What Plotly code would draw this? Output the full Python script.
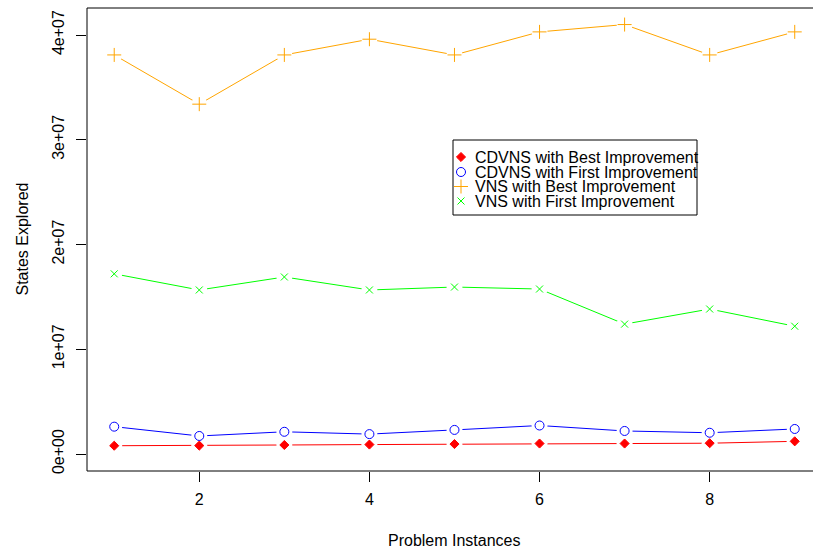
import plotly.graph_objects as go

# ---- data ----
instances = [1, 2, 3, 4, 5, 6, 7, 8, 9]
cdvns_best = [7.9e5, 8.0e5, 8.6e5, 9.0e5, 9.5e5, 1.0e6, 1.0e6, 1.03e6, 1.21e6]
cdvns_first = [2.61e6, 1.72e6, 2.12e6, 1.90e6, 2.30e6, 2.72e6, 2.20e6, 2.03e6, 2.39e6]
vns_best = [3.81e7, 3.34e7, 3.81e7, 3.96e7, 3.81e7, 4.03e7, 4.10e7, 3.81e7, 4.03e7]
vns_first = [1.72e7, 1.566e7, 1.69e7, 1.566e7, 1.594e7, 1.575e7, 1.24e7, 1.384e7, 1.22e7]

series_names = ["CDVNS with Best Improvement", "CDVNS with First Improvement",
                "VNS with Best Improvement", "VNS with First Improvement"]
series_values = [cdvns_best, cdvns_first, vns_best, vns_first]
colors = ["#FF0000", "#0000FF", "#FFA500", "#00FF00"]
symbols = ["diamond", "circle-open", "cross-thin", "x-thin"]
sizes = [7, 9, 10, 7]

x_ticks = [2, 4, 6, 8]
y_ticks = [0, 1e7, 2e7, 3e7, 4e7]
y_ticklabels = ["0e+00", "1e+07", "2e+07", "3e+07", "4e+07"]

FONT = "Liberation Sans, Arial, Helvetica, sans-serif"

W, H = 813, 552
L, T = 87, 8
B_PIX = 471  # bottom of plot region in pixels
PW, PH = W - L, B_PIX - T


def px(xp):
    return (xp - L) / PW


def py(yp):
    return (B_PIX - yp) / PH


fig = go.Figure()

# lines
for vals, c in zip(series_values, colors):
    fig.add_trace(go.Scatter(x=instances, y=vals, mode="lines",
                             line=dict(color=c, width=1), showlegend=False,
                             hoverinfo="skip"))
# white gaps around points (R type="b")
for vals in series_values:
    fig.add_trace(go.Scatter(x=instances, y=vals, mode="markers",
                             marker=dict(color="white", size=16, symbol="circle",
                                         line=dict(width=0), opacity=1),
                             showlegend=False, hoverinfo="skip"))
# symbols
for name, vals, c, s, sz in zip(series_names, series_values, colors, symbols, sizes):
    fig.add_trace(go.Scatter(x=instances, y=vals, mode="markers", name=name,
                             marker=dict(color=c, size=sz, symbol=s,
                                         line=dict(color=c, width=1)),
                             showlegend=False))

# manual legend on pixel-coordinate overlay axes
leg_rows_y = [157, 172, 186.5, 201]
leg_sym_x = 461
leg_text_x = 473
for name, c, s, sz, ry in zip(series_names, colors, symbols, sizes, leg_rows_y):
    fig.add_trace(go.Scatter(x=[leg_sym_x], y=[ry], mode="markers",
                             xaxis="x2", yaxis="y2",
                             marker=dict(color=c, size=sz, symbol=s,
                                         line=dict(color=c, width=1)),
                             showlegend=False, hoverinfo="skip"))
    fig.add_annotation(x=px(leg_text_x), y=py(ry), xref="paper", yref="paper",
                       text=name, showarrow=False, xanchor="left", yanchor="middle",
                       font=dict(family=FONT, size=16, color="black"))

fig.add_shape(type="rect", xref="paper", yref="paper",
              x0=px(453), x1=px(697), y0=py(215), y1=py(140),
              line=dict(color="black", width=1))

# box around plot (right edge falls outside the image)
fig.add_shape(type="rect", xref="paper", yref="paper", x0=0, x1=1.2, y0=0, y1=1,
              line=dict(color="black", width=1))

x_right = 1 + (W - 114.5) / 85.03

fig.update_layout(
    width=W, height=H,
    margin=dict(l=L, r=0, t=T, b=H - B_PIX),
    paper_bgcolor="white", plot_bgcolor="white",
    font=dict(family=FONT, size=16, color="black"),
    showlegend=False,
    xaxis=dict(range=[0.68, x_right], tickvals=x_ticks, ticks="outside", ticklen=10,
               tickwidth=1, tickcolor="black", showgrid=False, zeroline=False,
               showline=False, tickfont=dict(size=16), ticklabelstandoff=4),
    yaxis=dict(range=[-1.623e6, 4.258e7], tickvals=y_ticks, ticktext=y_ticklabels,
               tickangle=-90, ticks="outside", ticklen=10, tickwidth=1,
               tickcolor="black", showgrid=False, zeroline=False, showline=False,
               tickfont=dict(size=16), ticklabelstandoff=6),
    xaxis2=dict(range=[L, W], overlaying="x", visible=False, fixedrange=True),
    yaxis2=dict(range=[B_PIX, T], overlaying="y", visible=False, fixedrange=True),
)

fig.add_annotation(x=px(454.5), y=py(540), xref="paper", yref="paper",
                   text="Problem Instances", showarrow=False,
                   xanchor="center", yanchor="middle",
                   font=dict(family=FONT, size=16))
fig.add_annotation(x=px(22), y=py(239.5), xref="paper", yref="paper",
                   text="States Explored", showarrow=False, textangle=-90,
                   xanchor="center", yanchor="middle",
                   font=dict(family=FONT, size=16))

fig.write_html("out.html")
